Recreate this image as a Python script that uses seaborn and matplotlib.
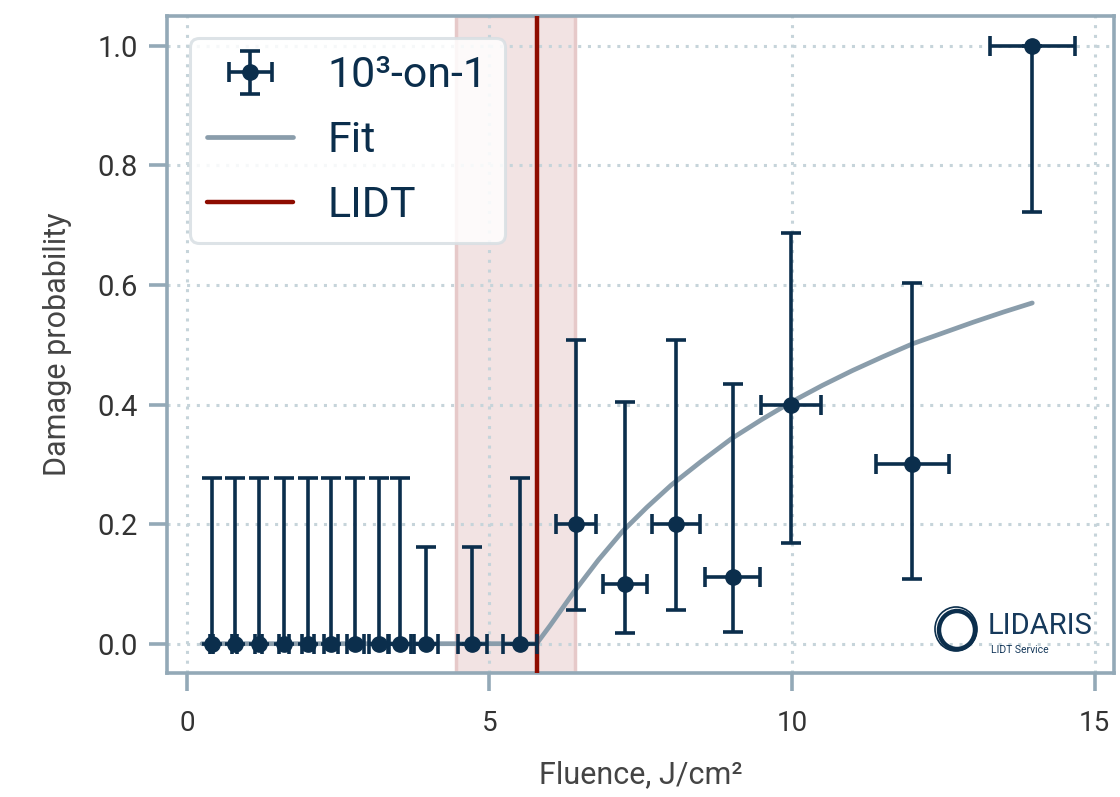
import numpy as np
import pandas as pd
import seaborn as sns
import matplotlib.pyplot as plt
from matplotlib.patches import Ellipse

# damage-probability measurements (fluence in J/cm2)
fluence = [0.41, 0.79, 1.19, 1.61, 2.00, 2.38, 2.78, 3.17, 3.52, 3.95, 4.72, 5.50,
           6.43, 7.24, 8.08, 9.02, 9.98, 11.99, 13.97]
fluence_err = [0.02, 0.04, 0.06, 0.08, 0.10, 0.12, 0.14, 0.16, 0.18, 0.20, 0.24, 0.28,
               0.33, 0.36, 0.40, 0.45, 0.50, 0.60, 0.70]
prob = [0, 0, 0, 0, 0, 0, 0, 0, 0, 0, 0, 0,
        0.2, 0.1, 0.2, 0.111, 0.4, 0.3, 1.0]
prob_low = [0, 0, 0, 0, 0, 0, 0, 0, 0, 0, 0, 0,
            0.057, 0.018, 0.057, 0.020, 0.168, 0.108, 0.722]
prob_high = [0.277, 0.277, 0.277, 0.277, 0.277, 0.277, 0.277, 0.277, 0.277, 0.162, 0.162, 0.277,
             0.508, 0.404, 0.508, 0.435, 0.687, 0.603, 1.0]

# fit curve
fit_x = [0.25, 5.78, 6.0, 6.4, 6.8, 7.2, 7.6, 8.0, 8.5, 9.0, 9.5, 10.0,
         10.5, 11.0, 11.5, 12.0, 12.5, 13.0, 13.5, 13.97]
fit_y = [0.0, 0.0, 0.03, 0.087, 0.14, 0.188, 0.228, 0.265, 0.305, 0.343, 0.375, 0.405,
         0.432, 0.457, 0.48, 0.502, 0.52, 0.538, 0.555, 0.57]

lidt = 5.78
lidt_band = (4.44, 6.42)

navy = '#0b2e4c'
fit_col = '#8a9dab'
red = '#8e0c00'
spine_col = '#93a9b7'
grid_col = '#c6d4da'

sns.set_theme(style='white')
plt.rcParams['font.family'] = ['Roboto', 'DejaVu Sans']

df = pd.DataFrame({'F': fluence, 'P': prob, 'lo': prob_low, 'hi': prob_high, 'dF': fluence_err})
fit_df = pd.DataFrame({'F': fit_x, 'P': fit_y})

fig = plt.figure(figsize=(11.2, 7.97), dpi=100)
ax = fig.add_axes([0.149, 0.1556, 0.8456, 0.8243])

ax.axvspan(*lidt_band, facecolor='#f2e3e3', edgecolor='#e6c9c9', lw=2.5, zorder=0)
ax.axvline(lidt, color=red, lw=3.2, zorder=3, label='LIDT')

sns.lineplot(data=fit_df, x='F', y='P', color=fit_col, lw=3.4, ax=ax, zorder=2, label='Fit')

yerr = [df['P'] - df['lo'], df['hi'] - df['P']]
ax.errorbar(df['F'], df['P'], xerr=df['dF'], yerr=yerr, fmt='o', color=navy,
            ms=11, elinewidth=2.6, capsize=7.5, capthick=2.6, zorder=4,
            label='10³-on-1')

ax.set_xlim(-0.33, 15.32)
ax.set_ylim(-0.049, 1.05)
ax.set_xticks([0, 5, 10, 15])
ax.set_yticks([0.0, 0.2, 0.4, 0.6, 0.8, 1.0])
ax.set_yticklabels(['0.0', '0.2', '0.4', '0.6', '0.8', '1.0'])
ax.grid(True, ls=(0, (1, 2.2)), color=grid_col, lw=2.2)
for s in ax.spines.values():
    s.set_visible(True)
    s.set_color(spine_col)
    s.set_linewidth(2.6)
ax.tick_params(axis='both', length=13, width=2.6, color=spine_col, direction='out')
ax.tick_params(axis='y', labelsize=21, labelcolor='#333333', pad=8, left=True)
ax.tick_params(axis='x', labelsize=20, labelcolor='#333333', pad=14, bottom=True)

ax.set_xlabel('Fluence, J/cm²', fontsize=22, color='#444444', labelpad=16)
ax.set_ylabel('Damage probability', fontsize=22, color='#444444', labelpad=18)

handles, labels = ax.get_legend_handles_labels()
order = [labels.index('10³-on-1'), labels.index('Fit'), labels.index('LIDT')]
leg = ax.legend([handles[i] for i in order], [labels[i] for i in order],
                loc='upper left', bbox_to_anchor=(0.0243, 0.9665), borderaxespad=0,
                fontsize=31, frameon=True, fancybox=True, framealpha=0.85,
                edgecolor='#d8dfe3', handlelength=2.0, handletextpad=0.8,
                labelspacing=0.55, borderpad=0.4)
leg.get_frame().set_linewidth(2.2)
for t in leg.get_texts():
    t.set_color(navy)

# logo in the lower right corner
fig.add_artist(Ellipse((957 / 1120, 1 - 630 / 797), width=36 / 1120, height=38 / 797,
                       transform=fig.transFigure, fill=False, lw=3.2, ec=navy))
fig.add_artist(Ellipse((956 / 1120, 1 - 629 / 797), width=42 / 1120, height=44 / 797,
                       transform=fig.transFigure, fill=False, lw=1.2, ec=navy))
fig.text(988 / 1120, 1 - 626 / 797, 'LIDARIS', fontsize=21, color='#16395b',
         va='center', ha='left')
fig.text(991 / 1120, 1 - 650 / 797, 'LIDT Service', fontsize=7.5, color='#16395b',
         va='center', ha='left')

fig.savefig('out.png', dpi=100)
